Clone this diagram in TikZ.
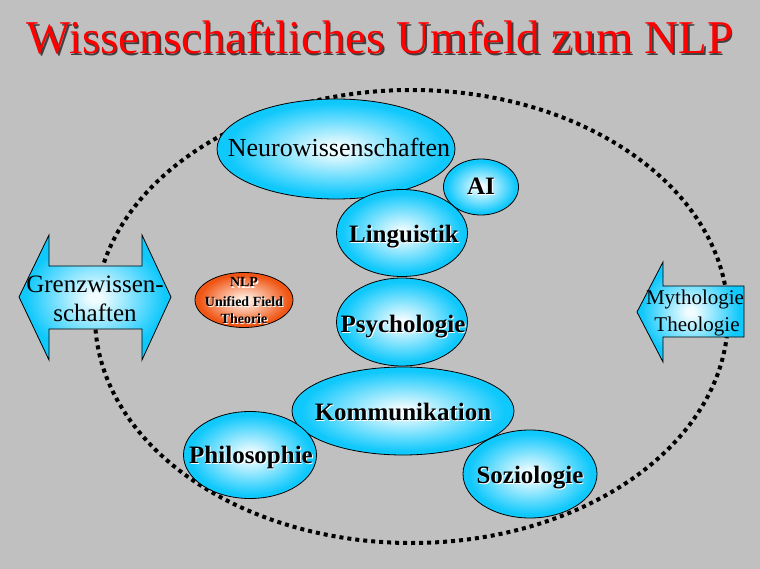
\documentclass[tikz,border=0pt]{standalone}
\usepackage{fontspec}
\setmainfont{Liberation Serif}
\usetikzlibrary{shapes.geometric}
\definecolor{bg}{RGB}{192,192,192}
\definecolor{cy}{RGB}{15,200,252}
\definecolor{cyl}{RGB}{240,252,255}
\definecolor{ora}{RGB}{240,85,20}
\definecolor{oral}{RGB}{255,238,225}
\pgfdeclareradialshading{cyball}{\pgfpoint{0bp}{0bp}}{color(0bp)=(cyl); color(2bp)=(cyl); color(23bp)=(cy); color(25bp)=(cy); color(50bp)=(cy)}
\pgfdeclareradialshading{orball}{\pgfpoint{0bp}{0bp}}{color(0bp)=(oral); color(2bp)=(oral); color(23bp)=(ora); color(25bp)=(ora); color(50bp)=(ora)}
\tikzset{
  ell/.style={ellipse, draw=black, line width=0.8pt, shading=cyball, inner sep=0pt},
  lbl/.style={font=\bfseries\fontsize{25}{25}\selectfont, anchor=base, inner sep=0pt},
  lblsh/.style={lbl, text=white},
  reg/.style={font=\fontsize{25}{25}\selectfont, anchor=base, inner sep=0pt},
  small/.style={font=\bfseries\fontsize{14}{14}\selectfont, anchor=base, inner sep=0pt},
  smallsh/.style={small, text=white},
  arrowbox/.style={draw=black, line width=0.8pt, shading=cyball},
}
\begin{document}
\begin{tikzpicture}[x=1pt, y=-1pt]
\fill[bg] (0,0) rectangle (760,569);
\useasboundingbox (0,0) rectangle (760,569);
% title
\node[font=\fontsize{47}{47}\selectfont, text=black!75, anchor=base, inner sep=0pt] (titlesh) at (381.5,55.5) {Wissenschaftliches Umfeld zum NLP};
\node[font=\fontsize{47}{47}\selectfont, text=red, anchor=base, inner sep=0pt] (title) at (380,54) {Wissenschaftliches Umfeld zum NLP};
% dotted boundary
\draw[line width=4pt, dash pattern=on 4pt off 4pt] (411.5,316.5) ellipse [x radius=316.5pt, y radius=226.5pt];
% left double arrow
\path[arrowbox] (19,297) -- (49,235) -- (49,266) -- (142,266) -- (142,235) -- (171,297) -- (142,360) -- (142,329) -- (49,329) -- (49,360) -- cycle;
\node[reg] (grenz1) at (95,292) {Grenzwissen-};
\node[reg] (grenz2) at (95,321) {schaften};
% right arrow
\path[arrowbox] (637,312) -- (663,262) -- (663,286) -- (744,286) -- (744,337) -- (663,337) -- (663,362) -- cycle;
\node[font=\fontsize{21}{21}\selectfont, anchor=base, inner sep=0pt] (myth) at (695,305) {Mythologie};
\node[font=\fontsize{21}{21}\selectfont, anchor=base, inner sep=0pt] (theo) at (697,331) {Theologie};
% ellipses
\node[ell, minimum width=238pt, minimum height=100pt] (neuro) at (336,149) {};
\node[ell, minimum width=75pt, minimum height=56pt] (ai) at (481,187) {};
\node[ell, minimum width=131pt, minimum height=87pt] (ling) at (402,233) {};
\node[ell, minimum width=131pt, minimum height=88pt] (psych) at (402,322) {};
\node[ell, minimum width=222pt, minimum height=88pt] (komm) at (403,411) {};
\node[ell, minimum width=133pt, minimum height=87pt] (philo) at (250,455) {};
\node[ell, minimum width=134pt, minimum height=88pt] (sozio) at (530,474) {};
\node[ellipse, draw=black, line width=0.8pt, shading=orball, inner sep=0pt, minimum width=98pt, minimum height=55pt] (nlp) at (244,300) {};
% labels
\node[font=\fontsize{26}{26}\selectfont, anchor=base, inner sep=0pt] (neurot) at (339,157) {Neurowissenschaften};
\node[lblsh] (ait2) at (482,196) {AI};
\node[lbl] (ait) at (481,195) {AI};
\node[lblsh] (lingt2) at (405,244) {Linguistik};
\node[lbl] (lingt) at (404,243) {Linguistik};
\node[lblsh] (psycht2) at (404,333) {Psychologie};
\node[lbl] (psycht) at (403,332) {Psychologie};
\node[lblsh] (kommt2) at (404,421) {Kommunikation};
\node[lbl] (kommt) at (403,420) {Kommunikation};
\node[lblsh] (philot2) at (252,464) {Philosophie};
\node[lbl] (philot) at (251,463) {Philosophie};
\node[lblsh] (soziot2) at (531,484) {Soziologie};
\node[lbl] (soziot) at (530,483) {Soziologie};
\node[smallsh] (nlp1s) at (245,288) {NLP};
\node[small] (nlp1) at (244,287) {NLP};
\node[smallsh] (nlp2s) at (245,307) {Unified Field};
\node[small] (nlp2) at (244,306) {Unified Field};
\node[smallsh] (nlp3s) at (245,324) {Theorie};
\node[small] (nlp3) at (244,323) {Theorie};
\end{tikzpicture}
\end{document}
